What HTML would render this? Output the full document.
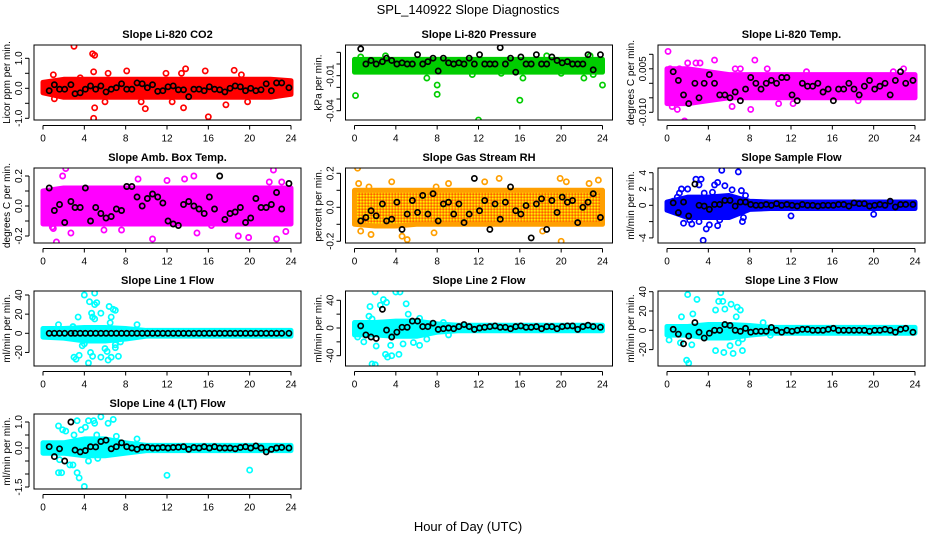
<!DOCTYPE html>
<html><head><meta charset="utf-8"><style>
body{margin:0;background:#fff}
svg{display:block;font-family:"Liberation Sans",sans-serif}
</style></head><body>
<svg id="c" width="936" height="540" viewBox="0 0 936 540">
<defs>
<pattern id="rhpat" width="3" height="3" patternUnits="userSpaceOnUse">
<rect width="3" height="3" fill="#ff9f00"/><rect x="0" y="0" width="1.5" height="1.5" fill="#ffee00"/><rect x="1.5" y="1.5" width="1.5" height="1.5" fill="#ff2200" opacity="0.5"/>
</pattern>
</defs>
<text x="468" y="14" text-anchor="middle" font-size="13">SPL_140922  Slope Diagnostics</text>
<text x="468" y="531" text-anchor="middle" font-size="13">Hour of Day (UTC)</text>
</svg>
<script>
// shared hours
const xTicks=[0,4,8,12,16,20,24];
const blackH=[0.6,1.1,1.6,2.1,2.7,3.1,3.6,4.1,4.6,5.1,5.6,6.1,6.6,7.1,7.6,8.1,8.6,9.1,9.6,10.1,10.6,11.1,11.6,12.1,12.6,13.1,13.6,14.1,14.6,15.1,15.6,16.1,16.6,17.1,17.6,18.1,18.6,19.1,19.6,20.1,20.6,21.1,21.6,22.1,22.6,23.1,23.8];
const bandH=[0,2,4,6,8,10,12,14,16,18,20,22,24];

// P1 CO2
const co2Lo=[-0.15,-0.3,-0.3,-0.3,-0.3,-0.3,-0.3,-0.3,-0.3,-0.3,-0.3,-0.3,-0.2];
const co2Hi=[0.2,0.3,0.3,0.3,0.3,0.3,0.3,0.3,0.3,0.3,0.3,0.3,0.25];
const co2Out=[[3,1.4],[4.8,1.15],[5,1.1],[4.9,-1.0],[5,-0.65],[16,-0.95],[13.6,-0.65],[9.9,-0.68],[17.7,-0.55],[4.9,0.55],[6.3,0.5],[8.1,0.58],[15.7,0.58],[13.8,0.65],[18.5,0.6],[1.1,-0.35],[6,-0.45],[9.5,-0.45],[12.5,-0.45],[19.8,-0.45],[11.9,0.5],[13.4,0.5],[19.2,0.45],[1,0.45],[3.6,0.35]];
const co2Black=[-0.08,0.12,-0.03,-0.03,0.12,-0.18,-0.15,-0.03,0.08,-0.03,0.08,-0.12,-0.03,0.02,0.15,-0.03,-0.03,0.18,0.15,0.02,0.12,-0.1,-0.08,0.05,0.08,-0.05,-0.05,-0.28,-0.03,-0.03,-0.08,0.05,-0.03,-0.05,-0.12,0.0,0.08,0.05,-0.08,0.0,-0.08,-0.05,0.15,-0.08,0.18,0.18,0.02];
const co2Ticks=[-1,-0.5,0,0.5,1];const co2Labels=["-1.0","","0.0","","1.0"];

// P2 Pressure
const presLo=[-0.007,-0.007,-0.007,-0.007,-0.007,-0.007,-0.007,-0.007,-0.007,-0.007,-0.007,-0.007,-0.007];
const presHi=[0.004,0.004,0.004,0.004,0.004,0.004,0.004,0.004,0.004,0.004,0.004,0.004,0.004];
const presOut=[[0.1,-0.027],[0.1,-0.005],[4,-0.052],[8,-0.026],[8,-0.018],[12,-0.048],[16,-0.031],[20,-0.053],[24,-0.018],[3,0.007],[0.6,0.006],[18.6,0.007],[22.8,0.007],[7,-0.012],[16.3,-0.012],[22.2,-0.012],[23.1,-0.009],[11.4,-0.009],[20,-0.008],[9.6,0.003],[4.1,0.003],[14.2,-0.008],[5.2,-0.006]];
const presBlack=[0.013,0.0,0.003,0.0,0.002,0.005,0.003,0.0,0.001,0.0,0.0,0.008,0.0,0.002,0.005,-0.006,0.005,0.001,0.0,0.001,0.0,0.005,0.0,0.008,0.0,0.0,0.0,0.014,0.0,0.005,-0.007,0.006,0.0,0.0,0.008,0.0,0.0,0.006,0.003,0.001,0.002,0.0,0.0,0.0,0.008,-0.005,0.008];
const presTicks=[-0.04,-0.03,-0.02,-0.01,0,0.01];const presLabels=["-0.04","","","-0.01","",""];

// P3 Li-820 Temp
const tmpLo=[-0.007,-0.007,-0.006,-0.005,-0.005,-0.005,-0.005,-0.005,-0.005,-0.005,-0.005,-0.005,-0.005];
const tmpHi=[0.005,0.005,0.004,0.003,0.003,0.003,0.003,0.003,0.003,0.003,0.003,0.003,0.003];
const tmpOut=[[0.1,0.011],[1.7,-0.013],[0.5,-0.008],[1,-0.009],[4.6,0.008],[8.5,0.008],[2,0.007],[2.8,0.007],[3.2,0.007],[0.3,0.005],[1.2,0.005],[6.6,0.005],[7.1,0.005],[9.7,0.005],[13.5,0.004],[6.3,-0.008],[8.1,-0.009],[18.5,-0.006],[10.8,-0.007],[12.2,-0.007],[22.9,0.005],[21.9,0.004]];
const tmpBlack=[0.004,0.001,-0.004,-0.007,0.0,-0.005,0.0,0.003,0.0,-0.004,-0.004,-0.005,-0.003,-0.006,-0.002,0.002,0.0,-0.002,0.0,0.001,0.0,0.002,0.002,-0.004,-0.006,0.0,-0.001,-0.001,0.0,-0.003,-0.002,-0.006,-0.002,-0.002,0.0,-0.002,-0.004,-0.001,0.001,-0.002,-0.001,0.0,-0.004,0.001,0.004,0.0,0.001];
const tmpTicks=[-0.01,-0.005,0,0.005,0.01];const tmpLabels=["-0.010","","","0.005",""];

// P4 Amb box temp
const ambLo=[-0.12,-0.12,-0.12,-0.12,-0.12,-0.12,-0.12,-0.12,-0.12,-0.12,-0.12,-0.12,-0.12];
const ambHi=[0.1,0.12,0.12,0.12,0.12,0.12,0.12,0.12,0.12,0.12,0.12,0.12,0.12];
const ambOut=[[0.1,-0.1],[1,-0.15],[1.3,-0.24],[1.9,0.2],[2.2,0.25],[2.7,-0.18],[5.9,-0.16],[7.6,-0.16],[10.6,-0.22],[9.2,0.18],[12,0.17],[14.6,0.2],[13.7,0.18],[16.3,-0.13],[18.9,-0.2],[19.9,-0.21],[21.9,0.16],[22.3,0.24],[22.6,-0.22],[23.1,0.16],[0.9,-0.14],[14.9,-0.18],[23.5,-0.17]];
const ambBlack=[0.12,-0.03,0.01,-0.11,0.03,-0.01,-0.01,0.12,-0.1,-0.01,-0.05,-0.08,-0.07,-0.02,-0.03,0.13,0.13,0.06,0.0,0.05,0.08,0.06,0.02,-0.1,-0.12,-0.13,0.01,0.03,0.0,-0.02,-0.05,0.06,-0.02,0.2,-0.09,-0.05,-0.04,-0.01,-0.11,-0.08,0.05,-0.01,-0.01,0.01,0.09,-0.02,0.15];
const ambTicks=[-0.2,-0.1,0,0.1,0.2];const ambLabels=["-0.2","","0.0","","0.2"];

// P5 Gas stream RH
const rhLo=[-0.1,-0.11,-0.11,-0.1,-0.1,-0.1,-0.1,-0.1,-0.1,-0.1,-0.1,-0.1,-0.1];
const rhHi=[0.1,0.1,0.1,0.1,0.1,0.1,0.1,0.1,0.1,0.1,0.1,0.1,0.1];
const rhOut=[[0.3,0.23],[0.6,-0.14],[0.4,0.14],[1.4,0.12],[1.6,-0.16],[3.6,0.15],[4.6,-0.17],[5.1,-0.19],[7.9,0.12],[7.7,-0.15],[9.1,0.14],[14,0.17],[19.9,0.17],[20,-0.2],[20.5,0.15],[22.7,0.14],[23.6,0.16],[12.6,0.15],[18.2,-0.14]];
const rhBlack=[-0.08,-0.06,-0.02,-0.05,0.02,-0.08,-0.07,0.03,-0.13,-0.04,0.04,-0.03,0.07,-0.04,0.08,-0.08,0.02,0.03,-0.04,0.02,-0.09,-0.04,0.17,-0.02,0.04,-0.13,0.02,-0.07,0.03,0.12,-0.02,-0.04,0.01,-0.18,0.02,0.05,-0.13,0.04,-0.03,0.06,0.03,0.04,-0.09,0.0,0.03,0.08,-0.06];
const rhTicks=[-0.2,-0.1,0,0.1,0.2];const rhLabels=["-0.2","","0.0","","0.2"];

// P6 Sample flow
const sfLo=[-0.6,-1.5,-1.5,-1.5,-0.5,-0.4,-0.4,-0.4,-0.4,-0.4,-0.4,-0.4,-0.4];
const sfHi=[0.4,1.0,1.0,1.2,0.5,0.4,0.4,0.4,0.4,0.4,0.4,0.4,0.4];
const sfOut=[[1.2,1.5],[1.4,2],[2,2],[2.8,3.2],[3.3,3.2],[3.1,2.5],[5.3,4.3],[6.9,4.1],[4.9,2.8],[6.3,1.9],[7.2,1.8],[3.5,-4.3],[3.8,-2.9],[4.1,-2.4],[4.9,-2.5],[7.3,-2],[2.4,-2.3],[1.6,-2.2],[12,-1.3],[20,-1.1],[4.6,2.5],[5.6,2.4],[3.6,1.5],[4.4,1.6],[7.6,1.2],[2.2,-1.8],[3.1,-2.0],[6.0,-1.2],[7.4,-1.5],[5.1,-1.8],[1.0,1.0],[0.6,0.5]];
const sfBlack=[0.3,-0.9,0.4,-1.3,2.6,0.0,-0.1,-0.5,0.1,0.1,0.6,0.6,-0.1,0.4,0.4,0.1,0.0,0.0,0.1,0.0,0.2,0.0,0.1,0.0,-0.1,0.1,0.0,0.0,-0.1,0.0,0.0,0.0,0.1,0.1,-0.1,0.3,0.2,0.2,-0.1,0.0,0.1,0.0,0.5,-0.2,0.1,0.1,0.1];
const sfTicks=[-4,-2,0,2,4];const sfLabels=["-4","","0","2","4"];

// P7 Line 1
const l1Lo=[-4,-5,-8,-8,-6,-3,-3,-3,-3,-3,-3,-3,-3];
const l1Hi=[5,5,6,6,5,3,3,3,3,3,3,3,3];
const l1Out=[[4,40],[5,42],[4.5,33],[5,30],[5.2,32],[6.4,28],[6.8,25],[7,24],[5.6,21],[4.7,21],[4.8,17],[3.4,17],[6.6,17],[5,15],[6.5,11],[4.6,-20],[4.8,-24],[3,-25],[3.5,-23],[3.2,-27],[4.4,-31],[5.6,-25],[6.3,-28],[6.6,-25],[7.3,-24],[6,-16],[6.2,-19],[7,-12],[7,-15],[7.5,-9],[4,-11],[3.8,-13],[1.5,9],[9.1,9],[2.9,7]];
const l1Black=[0,0,0,0,0,0,0,0,0,0,0,0,0,0,0,0,0,0,0,0,0,0,0,0,0,0,0,0,0,0,0,0,0,0,0,0,0,0,0,0,0,0,0,0,0,0,0];
const l1Ticks=[-20,0,20,40];const l1Labels=["-20","0","20","40"];

// P8 Line 2
const l2Lo=[-10,-10,-12,-12,-6,-4,-4,-4,-4,-4,-4,-4,-4];
const l2Hi=[8,8,10,10,6,4,4,4,4,4,4,4,4];
const l2Out=[[2,52],[4,52],[4.4,52],[1.5,31],[2.5,33],[2.8,41],[3.1,37],[5,35],[5.2,20],[1.4,17],[1.7,13],[6.3,14],[1.7,-52],[2,-53],[3,-38],[3.2,-42],[3.6,-40],[4.3,-38],[3.5,-25],[2.1,-26],[4.7,-23],[6.3,-25],[5.7,-21],[7,-16],[0.9,-20],[0.3,-13],[9.1,-10],[8.6,8]];
const l2Black=[3,-10,-13,-15,27,-3,-13,-6,1,1,10,10,2,2,7,-2,-1,0,-1,2,5,2,-2,0,1,2,3,1,1,-1,2,3,1,1,2,-1,2,2,-1,2,3,3,-2,2,4,2,1];
const l2Ticks=[-40,-20,0,20,40];const l2Labels=["-40","","0","","40"];

// P9 Line 3
const l3Lo=[-5,-5,-8,-8,-5,-3,-3,-3,-3,-3,-3,-3,-3];
const l3Hi=[4,4,6,6,5,3,3,3,3,3,3,3,3];
const l3Out=[[2,37],[2.9,32],[5.2,39],[5,30],[5.4,30],[5.6,22],[6.2,27],[6.8,24],[7.1,21],[4.7,21],[2.5,17],[1.4,14],[6.7,14],[1.9,-31],[2.1,-34],[1.3,-13],[4.7,-21],[5.5,-23],[6.4,-24],[6.1,-16],[7.3,-21],[6.9,-13],[7.3,-9],[2.4,-15],[0.2,-10],[9.3,8],[10,-5]];
const l3Black=[1,-4,-14,-6,8,-2,-8,-3,0,0,6,5,0,-1,2,-2,-1,-1,-1,3,0,-2,0,-1,0,1,1,0,0,0,1,2,0,0,0,0,0,0,-1,0,0,1,0,-2,1,2,-2];
const l3Ticks=[-20,0,20,40];const l3Labels=["-20","0","20","40"];

// P10 Line 4 (LT)
const l4Lo=[-0.2,-0.2,-0.3,-0.3,-0.2,-0.1,-0.1,-0.1,-0.1,-0.1,-0.1,-0.1,-0.1];
const l4Hi=[0.2,0.2,0.35,0.35,0.2,0.1,0.1,0.1,0.1,0.1,0.1,0.1,0.1];
const l4Out=[[1.5,0.85],[1.9,0.7],[2.2,0.65],[3.3,1.05],[3.7,0.7],[4.1,0.8],[4.4,1.05],[4.9,1.05],[5.0,0.95],[5.6,1.2],[6.3,0.95],[6.8,1.1],[7.1,0.45],[5.2,0.5],[3,0.5],[1.6,-0.45],[1.8,-0.95],[1.5,-0.95],[2.6,-0.65],[3.3,-0.95],[3.5,-1.15],[4,-1.48],[2.9,-0.65],[12,-1.05],[20,-0.85],[9.1,0.35],[4.4,-0.5],[5.3,-0.4]];
const l4Black=[0.05,-0.33,-0.03,-0.5,1.0,-0.08,-0.15,-0.1,0.05,0.04,0.25,0.3,-0.03,0.05,0.2,0.05,0.0,-0.05,0.03,0.03,0.0,0.0,0.02,0.0,0.02,0.03,0.05,-0.05,0.02,0.0,0.05,0.0,0.05,0.0,0.0,0.0,-0.03,0.02,0.05,0.0,0.08,0.0,-0.15,-0.05,0.0,0.02,0.0];
const l4Ticks=[-1.5,-1,-0.5,0,0.5,1];const l4Labels=["-1.5","","","0.0","","1.0"];

const NS="http://www.w3.org/2000/svg";
const svg=document.getElementById('c');
function mk(tag,attrs,parent){const e=document.createElementNS(NS,tag);for(const k in attrs)e.setAttribute(k,attrs[k]);(parent||svg).appendChild(e);return e;}

const colL=[34,345.5,658];const rowT=[45,168,291,414];const W=267,H=75;
// panel layout: [title, ylabel, col,row, v0,y0px,v1,y1px (calibration), color, lo,hi,out,black,ticks,labels, key]
const panels=[
 ["Slope Li-820 CO2","Licor ppm per min.",0,0,0,88.3,1,58.3,"#ff0000",co2Lo,co2Hi,co2Out,co2Black,co2Ticks,co2Labels,"co2"],
 ["Slope Li-820 Pressure","kPa per min.",1,0,0,64,-0.04,110.7,"#00cd00",presLo,presHi,presOut,presBlack,presTicks,presLabels,"pressure"],
 ["Slope Li-820 Temp.","degrees C per min.",2,0,0,83.3,-0.01,112.3,"#ff00ff",tmpLo,tmpHi,tmpOut,tmpBlack,tmpTicks,tmpLabels,"li820-temp"],
 ["Slope Amb. Box Temp.","degrees C per min.",0,1,0,206,0.2,176,"#ff00ff",ambLo,ambHi,ambOut,ambBlack,ambTicks,ambLabels,"amb-temp"],
 ["Slope Gas Stream RH","percent per min.",1,1,0,207.3,0.2,173.3,"#ffa500",rhLo,rhHi,rhOut,rhBlack,rhTicks,rhLabels,"rh"],
 ["Slope Sample Flow","ml/min per min.",2,1,0,205.3,4,172.7,"#0000ff",sfLo,sfHi,sfOut,sfBlack,sfTicks,sfLabels,"sample-flow"],
 ["Slope Line 1 Flow","ml/min per min.",0,2,0,333.3,40,295,"#00ffff",l1Lo,l1Hi,l1Out,l1Black,l1Ticks,l1Labels,"line1"],
 ["Slope Line 2 Flow","ml/min per min.",1,2,0,328,40,300.3,"#00ffff",l2Lo,l2Hi,l2Out,l2Black,l2Ticks,l2Labels,"line2"],
 ["Slope Line 3 Flow","ml/min per min.",2,2,0,330.3,40,291.7,"#00ffff",l3Lo,l3Hi,l3Out,l3Black,l3Ticks,l3Labels,"line3"],
 ["Slope Line 4 (LT) Flow","ml/min per min.",0,3,0,448,1,422,"#00ffff",l4Lo,l4Hi,l4Out,l4Black,l4Ticks,l4Labels,"line4"]
];

panels.forEach(p=>{
 const [title,ylab,ci,ri,v0,p0,v1,p1,color,lo,hi,out,blk,ticks,labels,key]=p;
 const L=colL[ci],T=rowT[ri];
 const g=mk('g',{});
 
 
 const x=h=>L+9+h*(248/24);
 const y=v=>p0+(v-v0)*(p1-p0)/(v1-v0);
 const clipId='clip-'+key;
 const cp=mk('clipPath',{id:clipId},g);mk('rect',{x:L,y:T,width:W,height:H},cp);
 const plot=mk('g',{'clip-path':'url(#'+clipId+')'},g);
 // band
 let pts=bandH.map((h,i)=>x(h)+','+y(hi[i]));
 for(let i=bandH.length-1;i>=0;i--)pts.push(x(bandH[i])+','+y(lo[i]));
 const band=mk('polygon',{points:pts.join(' '),fill:key==='rh'?'url(#rhpat)':color,stroke:key==='rh'?'#ff9f00':color,'stroke-width':5,'stroke-linejoin':'round'},plot);
 
 
 out.forEach(o=>{
  const c=mk('circle',{cx:x(o[0]),cy:y(o[1]),r:2.6,fill:'none',stroke:key==='rh'?'#ff9f00':color,'stroke-width':1.7},plot);
  
  
 });
 const n=Math.min(blk.length,blackH.length);
 for(let i=0;i<n;i++){
  const c=mk('circle',{cx:x(blackH[i]),cy:y(blk[i]),r:2.6,fill:'none',stroke:'#000','stroke-width':1.7},plot);
  
  
 }
 const box=mk('rect',{x:L,y:T,width:W,height:H,fill:'none',stroke:'#000','stroke-width':1},g);
 
 
 const t=mk('text',{x:L+W/2,y:T-7,'text-anchor':'middle','font-size':11,'font-weight':'bold'},g);t.textContent=title;
 
 
 // x axis
 const by=T+H+0.5;
 mk('line',{x1:x(0),x2:x(24),y1:by+5,y2:by+5,stroke:'#000','stroke-width':1},g);
 xTicks.forEach(h=>{
  mk('line',{x1:x(h),x2:x(h),y1:by+5,y2:by+9,stroke:'#000','stroke-width':1},g);
  const tl=mk('text',{x:x(h),y:by+21,'text-anchor':'middle','font-size':10},g);tl.textContent=h;
  
  
 });
 // y axis
 const ax=L-5;
 mk('line',{x1:ax,x2:ax,y1:y(ticks[0]),y2:y(ticks[ticks.length-1]),stroke:'#000','stroke-width':1},g);
 ticks.forEach((v,i)=>{
  mk('line',{x1:ax-4,x2:ax,y1:y(v),y2:y(v),stroke:'#000','stroke-width':1},g);
  if(labels[i]){
   const tl=mk('text',{x:0,y:0,'text-anchor':'middle','font-size':10,transform:`translate(${L-12},${y(v)}) rotate(-90)`},g);tl.textContent=labels[i];
   
   
  }
 });
 const yl=mk('text',{x:0,y:0,'text-anchor':'middle','font-size':10,transform:`translate(${L-24},${T+H/2}) rotate(-90)`},g);yl.textContent=ylab;
 
 
});
</script>
</body></html>
